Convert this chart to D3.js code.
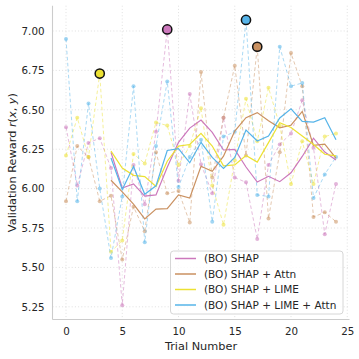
<!DOCTYPE html>
<html><head><meta charset="utf-8">
<script src="https://cdn.jsdelivr.net/npm/d3@7"></script>
<style>body{margin:0;background:#fff}svg{display:block}text{font-family:"DejaVu Sans",sans-serif;fill:#262626}</style>
</head><body><svg id="c" width="359" height="359"></svg>
<script>
const trials = [0,1,2,3,4,5,6,7,8,9,10,11,12,13,14,15,16,17,18,19,20,21,22,23,24];
const smoothTrials = [4,5,6,7,8,9,10,11,12,13,14,15,16,17,18,19,20,21,22,23,24];
const seriesNames = ["(BO) SHAP", "(BO) SHAP + Attn", "(BO) SHAP + LIME", "(BO) SHAP + LIME + Attn"];
const seriesColors = ["#cc78bc", "#ca9161", "#ece133", "#56b4e9"];

const rawShap = [6.39,6.02,6.29,6.32,6.13,5.26,6.15,5.90,6.36,7.01,6.05,6.60,6.155,5.97,6.45,6.07,6.04,5.68,6.15,6.28,6.35,6.56,6.26,5.71,6.03];
const rawShapAttn = [5.92,6.27,6.20,5.92,5.955,5.55,5.885,5.73,6.23,5.97,5.985,5.785,6.74,6.07,6.45,6.78,6.21,6.90,5.81,6.23,6.86,6.65,5.82,5.85,5.79];
const rawShapLime = [6.21,6.45,6.20,6.73,5.60,5.67,6.22,6.16,6.42,6.40,6.15,6.27,6.51,6.02,5.77,6.18,6.57,6.30,6.64,6.40,6.03,6.30,6.03,6.33,6.35];
const rawShapLimeAttn = [6.95,5.92,6.54,6.00,5.56,5.95,6.65,5.66,6.27,6.68,6.01,6.20,6.31,5.79,6.33,6.36,7.07,5.96,5.95,6.90,6.65,6.67,5.94,6.09,6.20];

const smoothShap = [6.23,6.004,6.03,5.952,5.96,6.136,6.294,6.384,6.435,6.357,6.245,6.249,6.137,6.042,6.078,6.044,6.10,6.204,6.32,6.232,6.182];
const smoothShapAttn = [6.053,5.979,5.902,5.808,5.87,5.873,5.96,5.94,6.142,6.11,6.206,6.365,6.45,6.482,6.43,6.386,6.402,6.49,6.274,6.282,6.194];
const smoothShapLime = [6.238,6.13,6.084,6.076,6.014,6.174,6.27,6.28,6.35,6.27,6.144,6.15,6.21,6.168,6.292,6.418,6.388,6.334,6.28,6.218,6.208];
const smoothShapLimeAttn = [6.194,5.994,6.14,5.964,6.018,6.242,6.254,6.164,6.294,6.198,6.128,6.198,6.372,6.302,6.334,6.448,6.506,6.426,6.422,6.45,6.31];

const bestTrial = [9, 17, 3, 16];

const xTicks = [0,5,10,15,20,25];
const yTicks = [5.25,5.50,5.75,6.00,6.25,6.50,6.75,7.00];

const raws = [rawShap, rawShapAttn, rawShapLime, rawShapLimeAttn];
const smooths = [smoothShap, smoothShapAttn, smoothShapLime, smoothShapLimeAttn];

const svg = d3.select("#c");
const L = 52.5, R = 349.5, T = 5.7, B = 319.5;
const x = d3.scaleLinear().domain([-1.2, 25.2]).range([L, R]);
const y = d3.scaleLinear().domain([5.1695, 7.1605]).range([B, T]);

// grid
const g = svg.append("g");
g.selectAll("line.gx").data(xTicks).enter().append("line")
  .attr("x1", d=>x(d)).attr("x2", d=>x(d)).attr("y1", T).attr("y2", B)
  .attr("stroke", "#dcdcdc").attr("stroke-width", 0.9).attr("stroke-dasharray", "1,2.2");
g.selectAll("line.gy").data(yTicks).enter().append("line")
  .attr("x1", L).attr("x2", R).attr("y1", d=>y(d)).attr("y2", d=>y(d))
  .attr("stroke", "#dcdcdc").attr("stroke-width", 0.9).attr("stroke-dasharray", "1,2.2");

// axes
const xAxis = d3.axisBottom(x).tickValues(xTicks).tickSize(0).tickPadding(8).tickFormat(d3.format("d"));
const yAxis = d3.axisLeft(y).tickValues(yTicks).tickSize(0).tickPadding(8).tickFormat(d3.format(".2f"));
const gx = svg.append("g").attr("transform", `translate(0,${B})`).call(xAxis);
const gy = svg.append("g").attr("transform", `translate(${L},0)`).call(yAxis);
[gx, gy].forEach(a => {
  a.select(".domain").remove();
  a.selectAll("text").attr("font-size", 10.3).attr("font-family", "DejaVu Sans").style("fill", "#262626");
});
svg.append("line").attr("x1", L).attr("x2", L).attr("y1", T).attr("y2", B).attr("stroke", "#cccccc").attr("stroke-width", 1.1);
svg.append("line").attr("x1", L).attr("x2", R).attr("y1", B).attr("y2", B).attr("stroke", "#cccccc").attr("stroke-width", 1.1);

// raw dashed series
const line = d3.line().x(d=>x(d[0])).y(d=>y(d[1]));
raws.forEach((arr, i) => {
  const pts = trials.map((t, k) => [t, arr[k]]);
  svg.append("path").attr("d", line(pts)).attr("fill", "none")
    .attr("stroke", seriesColors[i]).attr("stroke-width", 1).attr("stroke-opacity", 0.5)
    .attr("stroke-dasharray", "3.5,2.5");
  svg.append("g").selectAll("circle").data(pts).enter().append("circle")
    .attr("cx", d=>x(d[0])).attr("cy", d=>y(d[1])).attr("r", 2)
    .attr("fill", seriesColors[i]).attr("fill-opacity", 0.55);
});
// smoothed lines
smooths.forEach((arr, i) => {
  const pts = smoothTrials.map((t, k) => [t, arr[k]]);
  svg.append("path").attr("d", line(pts)).attr("fill", "none")
    .attr("stroke", seriesColors[i]).attr("stroke-width", 1.2);
});
// best markers
bestTrial.forEach((t, i) => {
  svg.append("circle").attr("cx", x(t)).attr("cy", y(raws[i][t])).attr("r", 4.6)
    .attr("fill", seriesColors[i]).attr("stroke", "#111").attr("stroke-width", 1.5);
});

// axis labels
svg.append("text").attr("x", (L+R)/2).attr("y", 350).attr("text-anchor", "middle")
  .attr("font-size", 11.3).text("Trial Number");
const yl = svg.append("text").attr("transform", `translate(16,${(T+B)/2}) rotate(-90)`)
  .attr("text-anchor", "middle").attr("font-size", 11.3);
yl.append("tspan").text("Validation Reward ");
yl.append("tspan").attr("font-style", "italic").text("r");
yl.append("tspan").text("(");
yl.append("tspan").attr("font-style", "italic").text("x");
yl.append("tspan").text(", ");
yl.append("tspan").attr("font-style", "italic").text("y");
yl.append("tspan").text(")");

// legend
const lg = svg.append("g");
lg.append("rect").attr("x", 170.5).attr("y", 251).attr("width", 172.5).attr("height", 63)
  .attr("rx", 3).attr("fill", "#fff").attr("fill-opacity", 0.8).attr("stroke", "#d6d6d6").attr("stroke-width", 1);
seriesNames.forEach((n, i) => {
  const yy = 258.5 + i * 15.5;
  lg.append("line").attr("x1", 175).attr("x2", 196).attr("y1", yy).attr("y2", yy)
    .attr("stroke", seriesColors[i]).attr("stroke-width", 1.5);
  lg.append("text").attr("x", 204).attr("y", yy).attr("dy", "0.36em")
    .attr("font-size", 10.5).text(n);
});
</script></body></html>
